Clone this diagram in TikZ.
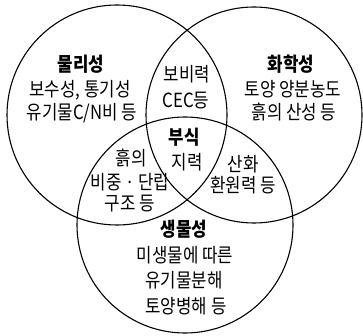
\documentclass[tikz,border=0pt]{standalone}
\usepackage{fontspec}
\newfontfamily\kr[FakeStretch=0.86]{Noto Sans CJK KR}
\begin{document}
\begin{tikzpicture}[x=1pt,y=-1pt,
  ring/.style={draw=black,line width=1.1pt,circle,inner sep=0pt},
  lbl/.style={inner sep=0pt,font=\kr\fontsize{19.5}{21}\selectfont,text height=14pt,text depth=2pt,anchor=center},
  ttl/.style={lbl,font=\kr\bfseries\fontsize{19.5}{21}\selectfont}]
\useasboundingbox (0,0) rectangle (363,336);
\node[ring,minimum size=220pt] (phys) at (117,115) {};
\node[ring,minimum size=216pt] (chem) at (254,115) {};
\node[ring,minimum size=216pt] (bio) at (185,225) {};
% physical
\node[ttl] (t1) at (81,66) {물리성};
\node[lbl] (p1) at (80,91) {보수성, 통기성};
\node[lbl] (p2) at (82,114) {유기물C/N비 등};
% chemical
\node[ttl] (t2) at (291,66) {화학성};
\node[lbl] (c1) at (293,91) {토양 양분농도};
\node[lbl] (c2) at (294,114) {흙의 산성 등};
% phys-chem
\node[lbl] (pc1) at (187,76) {보비력};
\node[lbl] (pc2) at (186,102) {CEC등};
% center
\node[ttl] (t3) at (184,139) {부식};
\node[lbl] (m1) at (187,164) {지력};
% phys-bio
\node[lbl] (pb1) at (131,160) {흙의};
\node[lbl] (pb2) at (130,184) {비중 · 단립};
\node[lbl] (pb3) at (130,205) {구조 등};
% chem-bio
\node[lbl] (cb1) at (243,166) {산화};
\node[lbl] (cb2) at (243,187) {환원력 등};
% bio
\node[ttl] (t4) at (184,230) {생물성};
\node[lbl] (b1) at (185,256) {미생물에 따른};
\node[lbl] (b2) at (184,281) {유기물분해};
\node[lbl] (b3) at (186,307) {토양병해 등};
\end{tikzpicture}
\end{document}
